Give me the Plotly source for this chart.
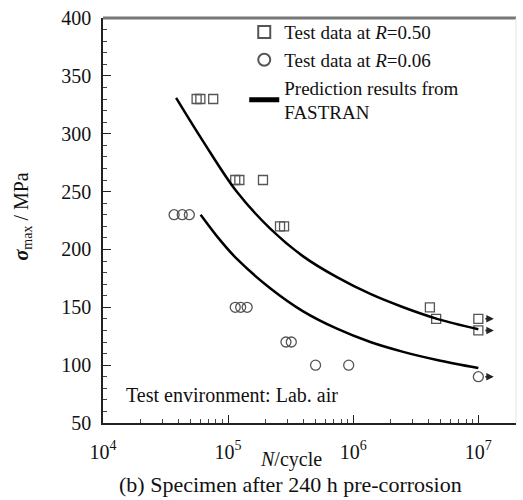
import math
import plotly.graph_objects as go

# Test data, R = 0.50 (cycles to failure, max stress in MPa)
n_r050 = [5.6e4, 6.0e4, 7.6e4, 1.14e5, 1.23e5, 1.9e5, 2.6e5, 2.8e5, 4.1e6, 4.6e6, 1.0e7, 1.0e7]
s_r050 = [330, 330, 330, 260, 260, 260, 220, 220, 150, 140, 140, 130]

# Test data, R = 0.06
n_r006 = [3.7e4, 4.3e4, 4.9e4, 1.14e5, 1.26e5, 1.42e5, 2.9e5, 3.2e5, 5.0e5, 9.2e5, 1.0e7]
s_r006 = [230, 230, 230, 150, 150, 150, 120, 120, 100, 100, 90]

# Run-outs (no failure) marked with an arrow
runout_n = [1.0e7, 1.0e7, 1.0e7]
runout_s = [140, 130, 90]

# FASTRAN predictions
n_pred_upper = [3.84e4, 6.35e4, 1.17e5, 2.17e5, 3.98e5, 7.41e5, 1.37e6, 2.51e6, 4.68e6, 1.0e7]
s_pred_upper = [331, 293, 250, 218, 194, 176, 161.5, 150, 140, 131]
n_pred_lower = [6.03e4, 8.63e4, 1.17e5, 2.17e5, 3.98e5, 7.41e5, 1.37e6, 2.51e6, 4.68e6, 1.0e7]
s_pred_lower = [230, 208, 192, 166.5, 146.5, 131.5, 120, 111.5, 104.5, 97.5]

x_tickvals = [1e4, 1e5, 1e6, 1e7]
x_ticktext = ["10<sup>4</sup>", "10<sup>5</sup>", "10<sup>6</sup>", "10<sup>7</sup>"]
y_tickvals = [50, 100, 150, 200, 250, 300, 350, 400]

FONT = "Liberation Serif"
MARK = "#555555"
TXT = "#111111"

fig = go.Figure()
fig.add_trace(go.Scatter(
    x=n_r050, y=s_r050, mode="markers", name="Test data at <i>R</i>=0.50",
    marker=dict(symbol="square-open", size=9, color=MARK, line=dict(width=1.3, color=MARK)),
))
fig.add_trace(go.Scatter(
    x=n_r006, y=s_r006, mode="markers", name="Test data at <i>R</i>=0.06",
    marker=dict(symbol="circle-open", size=10, color=MARK, line=dict(width=1.3, color=MARK)),
))
fig.add_trace(go.Scatter(
    x=n_pred_upper, y=s_pred_upper, mode="lines", name="Prediction results from<br>FASTRAN",
    line=dict(color="black", width=2.5, shape="spline", smoothing=1.0),
))
fig.add_trace(go.Scatter(
    x=n_pred_lower, y=s_pred_lower, mode="lines", showlegend=False,
    line=dict(color="black", width=2.5, shape="spline", smoothing=1.0),
))

# Run-out arrows pointing to the right of each specimen
for n, s in zip(runout_n, runout_s):
    fig.add_annotation(
        x=math.log10(n * 1.33), y=s, ax=-10, ay=0, axref="pixel", ayref="pixel",
        showarrow=True, arrowhead=2, arrowsize=1.0, arrowwidth=1.5, arrowcolor="#222", text="",
    )

fig.add_annotation(
    x=0.05, y=0.07, xref="paper", yref="paper", xanchor="left", yanchor="middle",
    text="Test environment: Lab. air", showarrow=False, font=dict(size=20, color=TXT, family=FONT),
)
fig.add_annotation(
    x=0.455, y=-0.0905, xref="paper", yref="paper", xanchor="center", yanchor="middle",
    text="<i>N</i>/cycle", showarrow=False, font=dict(size=20, color=TXT, family=FONT),
)
fig.add_annotation(
    x=0.455, y=-0.152, xref="paper", yref="paper", xanchor="center", yanchor="middle",
    text="(b) Specimen after 240 h pre-corrosion", showarrow=False,
    font=dict(size=22, color=TXT, family=FONT),
)
fig.add_annotation(
    x=-0.196, y=0.51, xref="paper", yref="paper", xanchor="center", yanchor="middle", textangle=-90,
    text="<b><i>σ</i></b><sub>max</sub> / MPa", showarrow=False, font=dict(size=20, color=TXT, family=FONT),
)

# Frame: grey top edge and faint right edge
fig.add_shape(type="line", xref="paper", yref="paper", x0=0, x1=1, y0=1, y1=1,
              line=dict(color="#777777", width=3))
fig.add_shape(type="line", xref="paper", yref="paper", x0=1, x1=1, y0=0, y1=1,
              line=dict(color="#e4e4e4", width=1))

fig.update_xaxes(
    type="log", range=[4, math.log10(2e7)],
    tickvals=x_tickvals, ticktext=x_ticktext,
    ticks="inside", ticklen=8, tickwidth=1.2, tickcolor="#222", ticklabelstandoff=10,
    minor=dict(ticks="inside", ticklen=4, tickwidth=1, tickcolor="#444", dtick="D1", showgrid=False),
    showline=True, linecolor="#222", linewidth=1.5, showgrid=False, zeroline=False,
    tickfont=dict(size=20, color=TXT, family=FONT),
)
fig.update_yaxes(
    range=[50, 400], tickvals=y_tickvals,
    ticks="inside", ticklen=8, tickwidth=1.2, tickcolor="#222", ticklabelstandoff=6,
    minor=dict(ticks="inside", ticklen=4, tickwidth=1, tickcolor="#444", dtick=10, showgrid=False),
    showline=True, linecolor="#222", linewidth=1.5, showgrid=False, zeroline=False,
    tickfont=dict(size=20, color=TXT, family=FONT),
)

fig.update_layout(
    width=523, height=500,
    margin=dict(l=103, r=7, t=15, b=77),
    paper_bgcolor="white", plot_bgcolor="white",
    font=dict(family=FONT, size=20, color=TXT),
    legend=dict(
        x=0.342, y=1.012, xanchor="left", yanchor="top",
        bgcolor="rgba(0,0,0,0)", borderwidth=0, tracegroupgap=0,
        font=dict(size=19, color=TXT, family=FONT), itemsizing="constant",
    ),
)

fig.write_html("out.html")
